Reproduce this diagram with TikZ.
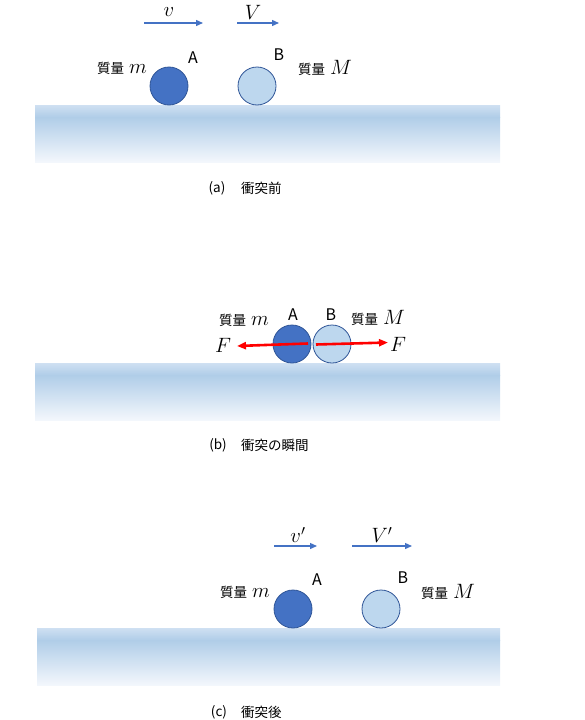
\documentclass[tikz,border=0pt]{standalone}
\usepackage{fontspec}
\newfontfamily\jp{Noto Sans CJK JP}
\usetikzlibrary{arrows.meta}

\definecolor{balldark}{RGB}{68,114,196}
\definecolor{balllight}{RGB}{189,215,238}
\definecolor{balledge}{RGB}{47,85,151}
\definecolor{arrowblue}{RGB}{68,114,196}
\definecolor{groundtop}{RGB}{207,224,242}
\definecolor{groundmid}{RGB}{176,205,232}
\definecolor{groundlow}{RGB}{243,247,252}

\newcommand{\mathbig}[1]{{\fontsize{21}{23}\selectfont$#1$}}
\newcommand{\masslabel}[1]{質量\hspace{5pt}\mathbig{#1}}

\begin{document}
\begin{tikzpicture}[x=1pt, y=-1pt,
		ballA/.style={circle, draw=balledge, fill=balldark, line width=0.8pt, minimum size=38pt, inner sep=0pt},
		ballB/.style={ballA, fill=balllight},
		letter/.style={font=\jp\fontsize{16}{18}\selectfont},
		mass/.style={font=\jp\fontsize{13.5}{15}\selectfont, inner sep=0pt},
		vel/.style={-{Triangle[length=7pt,width=6pt]}, draw=arrowblue, line width=1.3pt},
		force/.style={-{Triangle[length=9pt,width=7pt]}, draw=red, line width=2.6pt},
		caption/.style={font=\jp\fontsize{13.5}{15}\selectfont, inner sep=0pt}]
		\useasboundingbox (0,0) rectangle (585,720);

		% ground strips
		\foreach \gy/\gx in {105/35, 363/35, 628/37}{
				\shade[top color=groundtop, bottom color=groundmid] (\gx,\gy) rectangle (500,\gy+12);
				\shade[top color=groundmid, bottom color=groundlow] (\gx,\gy+12) rectangle (500,\gy+57);
			}

		% (a) before
		\node[ballA] (a1) at (169,86) {};
		\node[ballB] (b1) at (257,86) {};
		\node[letter] (la1) at (193,58) {A};
		\node[letter] (lb1) at (279,55) {B};
		\node[mass] (ma1) at (122,68) {\masslabel{m}};
		\node[mass] (mb1) at (325,68) {\masslabel{M}};
		\coordinate (va0) at (144,23);
		\coordinate (va1) at (203,23);
		\coordinate (vb0) at (237,23);
		\coordinate (vb1) at (279,23);
		\draw[vel] (va0) -- (va1);
		\draw[vel] (vb0) -- (vb1);
		\node (lv1) at (169,12) {\mathbig{v}};
		\node (lV1) at (253,12) {\mathbig{V}};
		\node[caption] (capa) at (217,188) {(a)};
		\node[caption, anchor=west] (capatext) at (241,188) {衝突前};

		% (b) collision
		\node[ballA] (a2) at (292,344) {};
		\node[ballB] (b2) at (332,344) {};
		\node[letter] (la2) at (293,315) {A};
		\node[letter] (lb2) at (331,315) {B};
		\node[mass] (ma2) at (244,320) {\masslabel{m}};
		\node[mass] (mb2) at (378,318) {\masslabel{M}};
		\coordinate (fa0) at (308,343.5);
		\coordinate (fa1) at (237,346);
		\coordinate (fb0) at (316,344.5);
		\coordinate (fb1) at (388,342.5);
		\draw[force] (fa0) -- (fa1);
		\draw[force] (fb0) -- (fb1);
		\node (lf1) at (223,345) {\mathbig{F}};
		\node (lf2) at (398,344) {\mathbig{F}};
		\node[caption] (capb) at (218,445) {(b)};
		\node[caption, anchor=west] (capbtext) at (241,445) {衝突の瞬間};

		% (c) after
		\node[ballA] (a3) at (293,609) {};
		\node[ballB] (b3) at (381,609) {};
		\node[letter] (la3) at (317,580) {A};
		\node[letter] (lb3) at (403,578) {B};
		\node[mass] (ma3) at (245,592) {\masslabel{m}};
		\node[mass] (mb3) at (448,592) {\masslabel{M}};
		\coordinate (vc0) at (274,546);
		\coordinate (vc1) at (317,546);
		\coordinate (vd0) at (352,546);
		\coordinate (vd1) at (412,546);
		\draw[vel] (vc0) -- (vc1);
		\draw[vel] (vd0) -- (vd1);
		\node (lv3) at (298,535) {\mathbig{v'}};
		\node (lV3) at (382,535) {\mathbig{V'}};
		\node[caption] (capc) at (219,712) {(c)};
		\node[caption, anchor=west] (capctext) at (241,712) {衝突後};
	\end{tikzpicture}
\end{document}
